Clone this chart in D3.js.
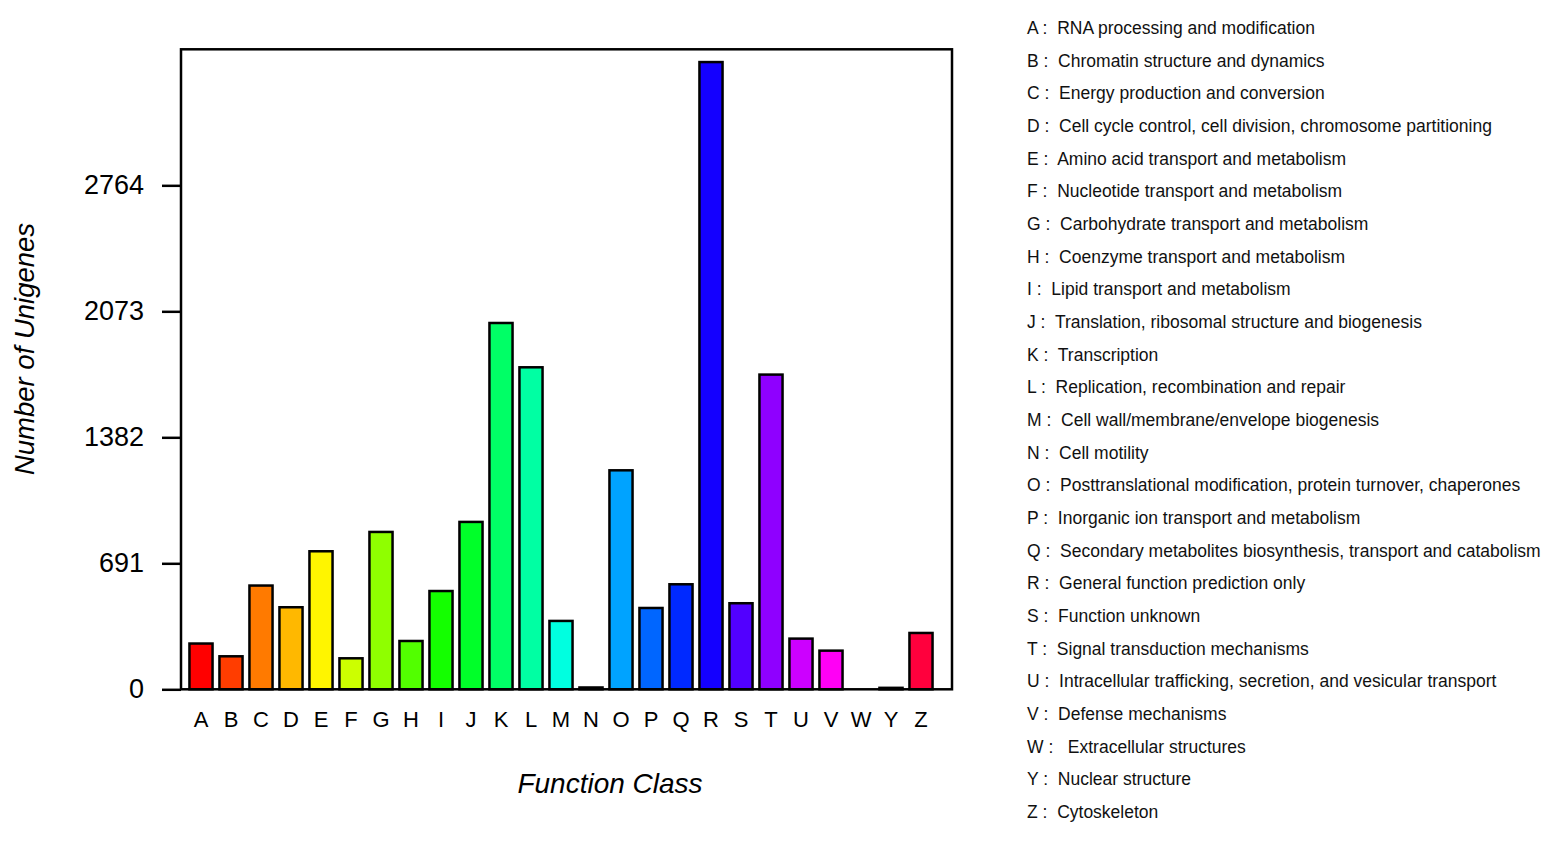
<!DOCTYPE html>
<html>
<head>
<meta charset="utf-8">
<script src="https://cdn.jsdelivr.net/npm/d3@7"></script>
<style>
  body { margin: 0; background: #fff; }
  svg { font-family: "Liberation Sans", Arial, sans-serif; }
  .legend text { white-space: pre; }
</style>
</head>
<body>
<div class="container"></div>
<script>
// COG function classes and number of unigenes per class
var classes = ["A","B","C","D","E","F","G","H","I","J","K","L","M","N","O","P","Q","R","S","T","U","V","W","Y","Z"]
var counts = [251, 181, 569, 450, 757, 170, 863, 265, 539, 918, 2009, 1766, 375, 10, 1201, 446, 576, 3440, 472, 1726, 278, 212, 0, 8, 309]
var tickValues = [0, 691, 1382, 2073, 2764]
var descriptions = [
  "RNA processing and modification",
  "Chromatin structure and dynamics",
  "Energy production and conversion",
  "Cell cycle control, cell division, chromosome partitioning",
  "Amino acid transport and metabolism",
  "Nucleotide transport and metabolism",
  "Carbohydrate transport and metabolism",
  "Coenzyme transport and metabolism",
  "Lipid transport and metabolism",
  "Translation, ribosomal structure and biogenesis",
  "Transcription",
  "Replication, recombination and repair",
  "Cell wall/membrane/envelope biogenesis",
  "Cell motility",
  "Posttranslational modification, protein turnover, chaperones",
  "Inorganic ion transport and metabolism",
  "Secondary metabolites biosynthesis, transport and catabolism",
  "General function prediction only",
  "Function unknown",
  "Signal transduction mechanisms",
  "Intracellular trafficking, secretion, and vesicular transport",
  "Defense mechanisms",
  " Extracellular structures",
  "Nuclear structure",
  "Cytoskeleton"
]

var width = 1555,
  height = 841;

var plot = { left: 181, right: 952, top: 49.3, bottom: 689.3 }

var svg = d3.select(".container").append("svg")
  .attr("width", width)
  .attr("height", height);

var x = d3.scaleBand()
  .domain(classes)
  .range([186, 936])
  .paddingInner(0.23)
  .paddingOuter(0.115);

var y = d3.scaleLinear()
  .domain([0, 3510])
  .range([plot.bottom, plot.top]);

// rainbow colours, one hue step per class
var color = d3.scaleOrdinal()
  .domain(classes)
  .range(classes.map(function (d, i) { return d3.hsl(i * 360 / classes.length, 1, 0.5).formatHex() }));

// ---------- BARS ----------
svg.append("g")
  .selectAll("rect")
  .data(classes)
  .enter().append("rect")
  .attr("x", function (d) { return x(d) })
  .attr("width", x.bandwidth())
  .attr("y", function (d, i) { return y(counts[i]) })
  .attr("height", function (d, i) { return y(0) - y(counts[i]) })
  .attr("fill", function (d) { return color(d) })
  .attr("stroke", function (d, i) { return counts[i] > 0 ? "#000" : "none" })
  .attr("stroke-width", 2.5);

// ---------- FRAME ----------
svg.append("rect")
  .attr("x", plot.left)
  .attr("y", plot.top)
  .attr("width", plot.right - plot.left)
  .attr("height", plot.bottom - plot.top)
  .attr("fill", "none")
  .attr("stroke", "#000")
  .attr("stroke-width", 2.5);

// ---------- AXES ----------
var yAxis = svg.append("g")
  .attr("transform", "translate(" + plot.left + ",0)")
  .call(d3.axisLeft(y).tickValues(tickValues).tickFormat(d3.format("d"))
    .tickSize(19).tickPadding(18).tickSizeOuter(0));

yAxis.select(".domain").remove();
yAxis.selectAll(".tick line").attr("stroke-width", 2.5);
yAxis.selectAll(".tick text")
  .attr("font-size", 27)
  .attr("font-family", "Liberation Sans, Arial, sans-serif")
  .attr("fill", "#000");

var xAxis = svg.append("g")
  .attr("transform", "translate(0," + plot.bottom + ")")
  .call(d3.axisBottom(x).tickSize(0).tickPadding(22));

xAxis.select(".domain").remove();
xAxis.selectAll(".tick text")
  .attr("font-size", 22)
  .attr("font-family", "Liberation Sans, Arial, sans-serif")
  .attr("fill", "#000");

// ---------- TITLES ----------
svg.append("text")
  .attr("transform", "translate(34,349) rotate(-90)")
  .attr("text-anchor", "middle")
  .attr("font-size", 27.5)
  .attr("font-style", "italic")
  .text("Number of Unigenes");

svg.append("text")
  .attr("x", 610)
  .attr("y", 793)
  .attr("text-anchor", "middle")
  .attr("font-size", 28)
  .attr("font-style", "italic")
  .text("Function Class");

// ---------- LEGEND ----------
var legendY = d3.scalePoint()
  .domain(classes)
  .range([34, 818]);

svg.append("g")
  .attr("class", "legend")
  .selectAll("text")
  .data(classes)
  .enter().append("text")
  .attr("x", 1027)
  .attr("y", function (d) { return legendY(d) })
  .attr("font-size", 17.5)
  .attr("fill", "#111")
  .text(function (d, i) { return d + " :  " + descriptions[i] });
</script>
</body>
</html>
